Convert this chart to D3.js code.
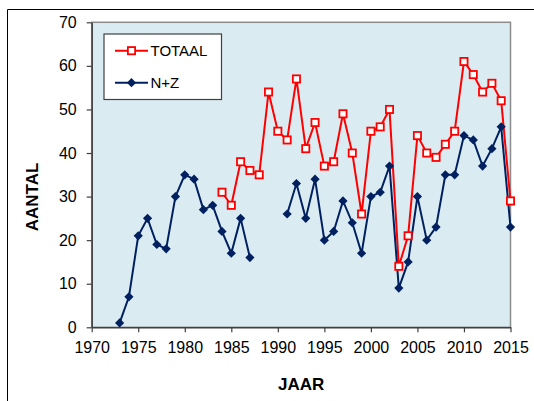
<!DOCTYPE html>
<html>
<head>
<meta charset="utf-8">
<script src="https://cdn.jsdelivr.net/npm/d3@7"></script>
<style>
  html, body { margin: 0; padding: 0; background: #ffffff; }
  svg { display: block; font-family: "Liberation Sans", Arial, sans-serif; }
</style>
</head>
<body>
<svg id="chart" width="534" height="401"></svg>
<script>
const yearsNZ = [1973,1974,1975,1976,1977,1978,1979,1980,1981,1982,1983,1984,1985,1986,1987,1988,1989,1990,1991,1992,1993,1994,1995,1996,1997,1998,1999,2000,2001,2002,2003,2004,2005,2006,2007,2008,2009,2010,2011,2012,2013,2014,2015];
const valuesNZ = [1,7,21,25,19,18,30,35,34,27,28,22,17,25,16,null,null,null,26,33,25,34,20,22,29,24,17,30,31,37,9,15,30,20,23,35,35,44,43,37,41,46,23];
const yearsTot = [1984,1985,1986,1987,1988,1989,1990,1991,1992,1993,1994,1995,1996,1997,1998,1999,2000,2001,2002,2003,2004,2005,2006,2007,2008,2009,2010,2011,2012,2013,2014,2015];
const valuesTot = [31,28,38,36,35,54,45,43,57,41,47,37,38,49,40,26,45,46,50,14,21,44,40,39,42,45,61,58,54,56,52,29];
const xTicks = [1970,1975,1980,1985,1990,1995,2000,2005,2010,2015];
const yTicks = [0,10,20,30,40,50,60,70];
const seriesNames = ["TOTAAL","N+Z"];
const xTitle = "JAAR";
const yTitle = "AANTAL";

const RED = "#ff0000", NAVY = "#002060", BG = "#daecf2";
const svg = d3.select("#chart");

// outer frame (only top & left visible)
svg.append("line").attr("x1",7.5).attr("x2",534).attr("y1",9.5).attr("y2",9.5).attr("stroke","#000").attr("stroke-width",1);
svg.append("line").attr("x1",7.5).attr("x2",7.5).attr("y1",9.5).attr("y2",401).attr("stroke","#000").attr("stroke-width",1);

const L = 91.7, R = 510.5, T = 22.3, B = 327.3;
const x = d3.scaleLinear().domain([1970,2015]).range([L,R]);
const y = d3.scaleLinear().domain([0,70]).range([B,T]);

svg.append("rect").attr("x",L).attr("y",T).attr("width",R-L).attr("height",B-T)
  .attr("fill",BG).attr("stroke","#8c8c8c").attr("stroke-width",1.5);

// axes
const xAxis = svg.append("g").attr("transform",`translate(0,${B})`)
  .call(d3.axisBottom(x).tickValues(xTicks).tickFormat(d3.format("d")).tickSize(5).tickPadding(9).tickSizeOuter(0));
const yAxis = svg.append("g").attr("transform",`translate(${L},0)`)
  .call(d3.axisLeft(y).tickValues(yTicks).tickSize(5).tickPadding(10).tickSizeOuter(0));
[xAxis,yAxis].forEach(g=>{
  g.select(".domain").attr("stroke","#404040").attr("stroke-width",1.5);
  g.selectAll(".tick line").attr("stroke","#404040").attr("stroke-width",1.2);
  g.selectAll(".tick text").attr("fill","#000").style("font-size","16px").style("font-family","'Liberation Sans', Arial, sans-serif");
});

// axis titles
svg.append("text").attr("x",(L+R)/2).attr("y",389.5).attr("text-anchor","middle")
  .style("font-size","17px").style("font-weight","bold").text(xTitle);
svg.append("text").attr("transform","translate(37.5,197) rotate(-90)").attr("text-anchor","middle")
  .style("font-size","17px").style("font-weight","bold").text(yTitle);

// series
const nz = yearsNZ.map((yr,i)=>({yr, v: valuesNZ[i]}));
const tot = yearsTot.map((yr,i)=>({yr, v: valuesTot[i]}));
const line = d3.line().defined(d=>d.v!=null).x(d=>x(d.yr)).y(d=>y(d.v));

svg.append("path").datum(tot).attr("d",line).attr("fill","none").attr("stroke",RED).attr("stroke-width",2);
svg.append("path").datum(nz).attr("d",line).attr("fill","none").attr("stroke",NAVY).attr("stroke-width",2);

const diamond = (cx,cy,r)=>`M${cx},${cy-r}L${cx+r},${cy}L${cx},${cy+r}L${cx-r},${cy}Z`;
svg.append("g").selectAll("rect").data(tot).join("rect")
  .attr("x",d=>x(d.yr)-3.6).attr("y",d=>y(d.v)-3.6).attr("width",7.2).attr("height",7.2)
  .attr("fill","#fff").attr("stroke",RED).attr("stroke-width",1.8);
svg.append("g").selectAll("path").data(nz.filter(d=>d.v!=null)).join("path")
  .attr("d",d=>diamond(x(d.yr),y(d.v),4.6)).attr("fill",NAVY);

// legend
const lg = svg.append("g");
lg.append("rect").attr("x",104).attr("y",34).attr("width",117.5).attr("height",65.5)
  .attr("fill","#fff").attr("stroke","#404040").attr("stroke-width",1.2);
lg.append("line").attr("x1",115).attr("x2",148).attr("y1",50.7).attr("y2",50.7).attr("stroke",RED).attr("stroke-width",2);
lg.append("rect").attr("x",131.5-3.6).attr("y",50.7-3.6).attr("width",7.2).attr("height",7.2)
  .attr("fill","#fff").attr("stroke",RED).attr("stroke-width",1.8);
lg.append("line").attr("x1",115).attr("x2",148).attr("y1",82.7).attr("y2",82.7).attr("stroke",NAVY).attr("stroke-width",2);
lg.append("path").attr("d",diamond(131.5,82.7,4.6)).attr("fill",NAVY);
lg.append("text").attr("x",150.5).attr("y",56.1).style("font-size","15px").text(seriesNames[0]);
lg.append("text").attr("x",150.5).attr("y",88.1).style("font-size","15px").text(seriesNames[1]);
</script>
</body>
</html>
